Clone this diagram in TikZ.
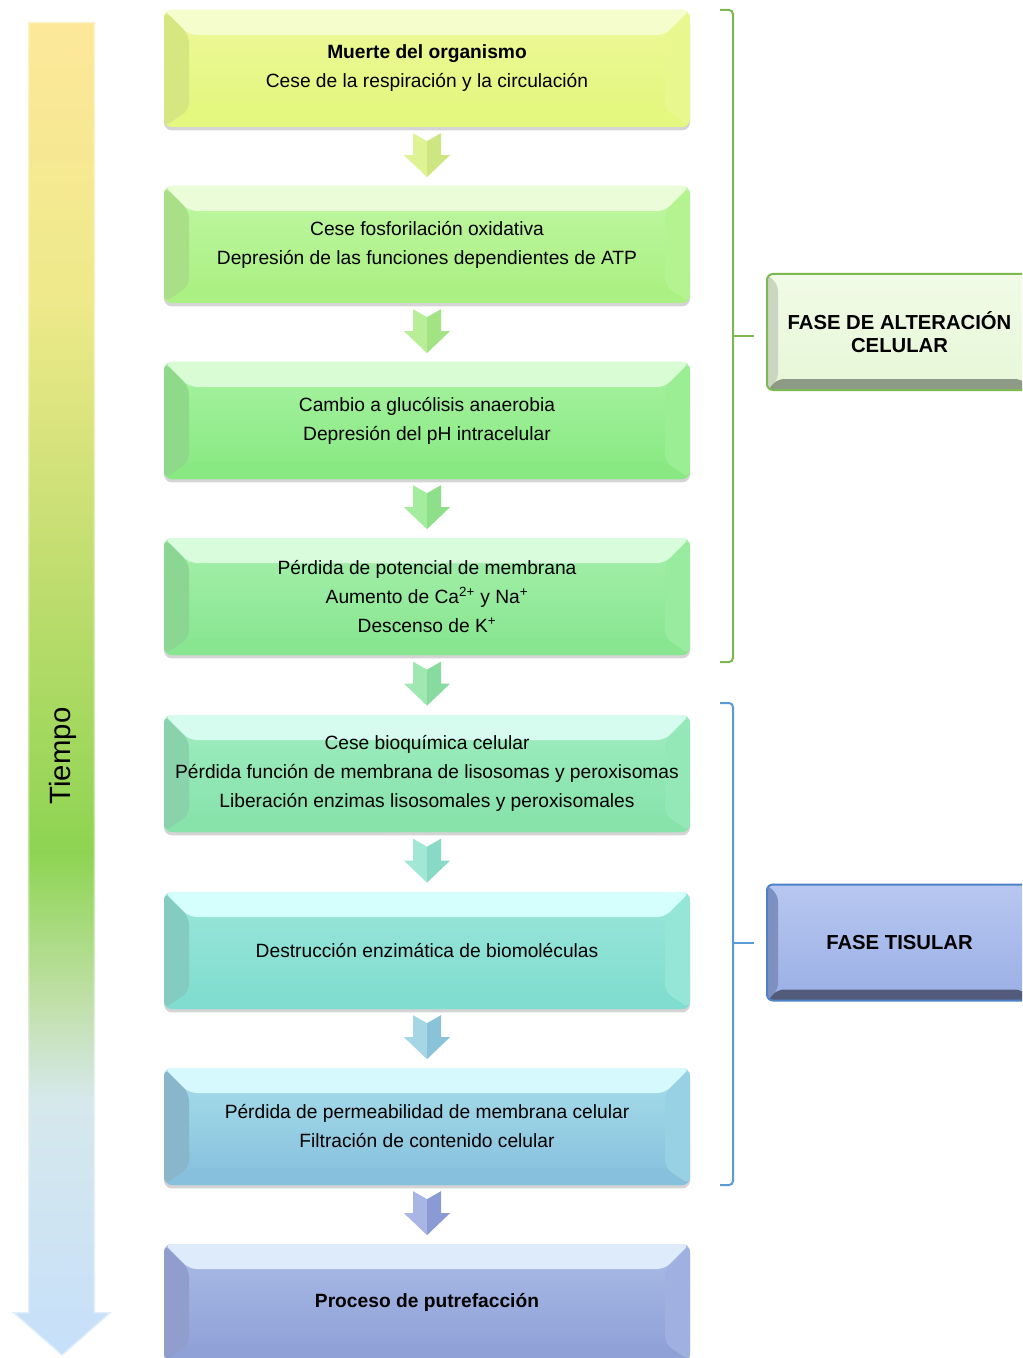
\documentclass[tikz,border=0pt]{standalone}
\usepackage{fontspec}
\setmainfont{Liberation Sans}
\usetikzlibrary{calc,shadows}

% box colours: f1/f2 face top/bottom, t top bevel, l left bevel, r right bevel, b bottom bevel
\definecolor{b1f1}{HTML}{EEF99A}\definecolor{b1f2}{HTML}{E2F67A}\definecolor{b1t}{HTML}{F6FDCC}\definecolor{b1l}{HTML}{D6E782}\definecolor{b1r}{HTML}{E9F88E}\definecolor{b1b}{HTML}{E4F77E}
\definecolor{b2f1}{HTML}{C0F6A4}\definecolor{b2f2}{HTML}{A9F07F}\definecolor{b2t}{HTML}{EAFDD8}\definecolor{b2l}{HTML}{A9DF86}\definecolor{b2r}{HTML}{B4F390}\definecolor{b2b}{HTML}{ABF082}
\definecolor{b3f1}{HTML}{A8F2A2}\definecolor{b3f2}{HTML}{86E97F}\definecolor{b3t}{HTML}{DAFCD4}\definecolor{b3l}{HTML}{8FD98A}\definecolor{b3r}{HTML}{9BEE93}\definecolor{b3b}{HTML}{88E982}
\definecolor{b4f1}{HTML}{A6F0AC}\definecolor{b4f2}{HTML}{86E58E}\definecolor{b4t}{HTML}{D9FCDC}\definecolor{b4l}{HTML}{8CD694}\definecolor{b4r}{HTML}{99EBA0}\definecolor{b4b}{HTML}{89E690}
\definecolor{b5f1}{HTML}{A0ECC2}\definecolor{b5f2}{HTML}{84E2A8}\definecolor{b5t}{HTML}{D6FCF0}\definecolor{b5l}{HTML}{89D2AC}\definecolor{b5r}{HTML}{94E7B6}\definecolor{b5b}{HTML}{87E3AA}
\definecolor{b6f1}{HTML}{9AE6DA}\definecolor{b6f2}{HTML}{7EDCCE}\definecolor{b6t}{HTML}{D4FFFC}\definecolor{b6l}{HTML}{84CCC2}\definecolor{b6r}{HTML}{96E6D8}\definecolor{b6b}{HTML}{81DDD0}
\definecolor{b7f1}{HTML}{A8DEEA}\definecolor{b7f2}{HTML}{84BEDC}\definecolor{b7t}{HTML}{D6F9FE}\definecolor{b7l}{HTML}{8AB6CC}\definecolor{b7r}{HTML}{98D0E4}\definecolor{b7b}{HTML}{87C0DD}
\definecolor{b8f1}{HTML}{ABBCE6}\definecolor{b8f2}{HTML}{8C9FD6}\definecolor{b8t}{HTML}{DDEBFB}\definecolor{b8l}{HTML}{8F9ECC}\definecolor{b8r}{HTML}{A0B0E0}\definecolor{b8b}{HTML}{8FA1D7}
% chevron colours
\definecolor{a1L}{HTML}{E0F394}\definecolor{a1R}{HTML}{CDE682}
\definecolor{a2L}{HTML}{B8EE98}\definecolor{a2R}{HTML}{A2E384}
\definecolor{a3L}{HTML}{A4EC9E}\definecolor{a3R}{HTML}{8DDF8A}
\definecolor{a4L}{HTML}{A0E8B2}\definecolor{a4R}{HTML}{88DB9E}
\definecolor{a5L}{HTML}{A2E6D4}\definecolor{a5R}{HTML}{88DAC6}
\definecolor{a6L}{HTML}{A4D6E6}\definecolor{a6R}{HTML}{8AC2D8}
\definecolor{a7L}{HTML}{A8B6E6}\definecolor{a7R}{HTML}{8A9AD4}
% time arrow
\definecolor{t1}{HTML}{FDE89A}\definecolor{t2}{HTML}{EEE98A}\definecolor{t3}{HTML}{C4DE72}
\definecolor{t4}{HTML}{8ED452}\definecolor{t5}{HTML}{C0E0A8}\definecolor{t6}{HTML}{D6E8EC}\definecolor{t7}{HTML}{C6E0FA}
% labels
\definecolor{gA}{HTML}{7CB950}\definecolor{bA}{HTML}{5B9BD5}
\definecolor{lAf1}{HTML}{F1FBE7}\definecolor{lAf2}{HTML}{E6F7D6}\definecolor{lAl}{HTML}{CAD6C2}\definecolor{lAb}{HTML}{8D9B86}
\definecolor{lBf1}{HTML}{B7C7F0}\definecolor{lBf2}{HTML}{9AAFE5}\definecolor{lBl}{HTML}{7F8FC0}\definecolor{lBb}{HTML}{525C7A}\definecolor{lBd}{HTML}{4F81C8}

\pgfdeclareverticalshading{timeshade}{100bp}{color(0bp)=(t7); color(25bp)=(t7); color(34.6bp)=(t6); color(38.3bp)=(t5); color(43.9bp)=(t4); color(55.1bp)=(t3); color(64.5bp)=(t2); color(75bp)=(t1); color(100bp)=(t1)}

\newcommand\boxfont{\fontsize{14.4pt}{21.75pt}\selectfont}
\newcommand\labfont{\fontsize{15.2pt}{17.25pt}\selectfont\bfseries}

\newcommand\mychev[3]{%
  \coordinate (m#1) at ($(#1.south)!0.5!(#2.north)+(0,1pt)$);
  \fill[#3L] ($(m#1)+(0,10.5pt)$) -- ($(m#1)+(-10.5pt,16.5pt)$) -- ($(m#1)+(-10.5pt,0pt)$) -- ($(m#1)+(-17.25pt,0pt)$) -- ($(m#1)+(0,-16.5pt)$) -- cycle;
  \fill[#3R] ($(m#1)+(0,10.5pt)$) -- ($(m#1)+(10.5pt,16.5pt)$) -- ($(m#1)+(10.5pt,0pt)$) -- ($(m#1)+(17.25pt,0pt)$) -- ($(m#1)+(0,-16.5pt)$) -- cycle;
}

\tikzset{
  bevbox/.style={rectangle, rounded corners=6pt, minimum width=394.5pt, minimum height=87.75pt,
    inner sep=0pt, align=center, font=\boxfont, top color=#1f1, bottom color=#1f2, draw=none,
    drop shadow={shadow xshift=0pt, shadow yshift=-2.6pt, opacity=0.28, fill=black!60},
    path picture={
      \fill[#1t] (path picture bounding box.north west) -- (path picture bounding box.north east)
        -- ([shift={(-18.75pt,-18.75pt)}]path picture bounding box.north east)
        -- ([shift={(18.75pt,-18.75pt)}]path picture bounding box.north west) -- cycle;
      \fill[#1l] (path picture bounding box.north west)
        -- ([shift={(18.75pt,-18.75pt)}]path picture bounding box.north west)
        -- ([shift={(18.75pt,12.75pt)}]path picture bounding box.south west)
        -- (path picture bounding box.south west) -- cycle;
      \fill[#1r] (path picture bounding box.north east)
        -- ([shift={(-18.75pt,-18.75pt)}]path picture bounding box.north east)
        -- ([shift={(-18.75pt,12.75pt)}]path picture bounding box.south east)
        -- (path picture bounding box.south east) -- cycle;
      \fill[#1b] (path picture bounding box.south west)
        -- ([shift={(18.75pt,12.75pt)}]path picture bounding box.south west)
        -- ([shift={(-18.75pt,12.75pt)}]path picture bounding box.south east)
        -- (path picture bounding box.south east) -- cycle;
    }},
  labbox/.style n args={5}{rectangle, rounded corners=4.5pt, minimum width=198.75pt, minimum height=87pt,
    inner sep=0pt, align=center, font=\labfont, top color=#1, bottom color=#2, draw=#5, line width=1.5pt,
    path picture={
      \fill[#3] (path picture bounding box.north west)
        -- ([shift={(8.25pt,-8.25pt)}]path picture bounding box.north west)
        -- ([shift={(8.25pt,8.25pt)}]path picture bounding box.south west)
        -- (path picture bounding box.south west) -- cycle;
      \fill[#4] (path picture bounding box.south west)
        -- ([shift={(8.25pt,8.25pt)}]path picture bounding box.south west)
        -- ([shift={(-8.25pt,8.25pt)}]path picture bounding box.south east)
        -- (path picture bounding box.south east) -- cycle;
    }},
  bracket/.style={line width=1.5pt, rounded corners=3pt}
}

\begin{document}
\begin{tikzpicture}[x=0.75pt,y=-0.75pt]
\useasboundingbox (0,0) rectangle (1022,1358);
\clip (0,0) rectangle (1022,1358);
\fill[white] (0,0) rectangle (1022,1358);

% time arrow
\shade[shading=timeshade] (28,22) -- (95,22) -- (95,1312) -- (112,1312) -- (62,1356) -- (12,1312) -- (28,1312) -- cycle;
\draw[white, opacity=0.45, line width=2pt] (28,22) -- (95,22) -- (95,1312) -- (112,1312) -- (62,1356) -- (12,1312) -- (28,1312) -- cycle;
\node[rotate=90, font=\fontsize{22pt}{26pt}\selectfont, inner sep=0pt] (tiempo) at (63,756) {Tiempo};

% boxes
\node[bevbox=b1] (b1) at (427,68.5) {\textbf{Muerte del organismo}\\Cese de la respiración y la circulación};
\node[bevbox=b2] (b2) at (427,244.5) {Cese fosforilación oxidativa\\Depresión de las funciones dependientes de ATP};
\node[bevbox=b3] (b3) at (427,420.5) {Cambio a glucólisis anaerobia\\Depresión del pH intracelular};
\node[bevbox=b4] (b4) at (427,596.5) {Pérdida de potencial de membrana\\Aumento de Ca\textsuperscript{2+} y Na\textsuperscript{+}\\Descenso de K\textsuperscript{+}};
\node[bevbox=b5] (b5) at (427,773.5) {Cese bioquímica celular\\Pérdida función de membrana de lisosomas y peroxisomas\\Liberación enzimas lisosomales y peroxisomales};
\node[bevbox=b6] (b6) at (427,950.5) {Destrucción enzimática de biomoléculas};
\node[bevbox=b7] (b7) at (427,1126.5) {Pérdida de permeabilidad de membrana celular\\Filtración de contenido celular};
\node[bevbox=b8] (b8) at (427,1302.5) {\textbf{Proceso de putrefacción}};

% chevrons between boxes
\mychev{b1}{b2}{a1}
\mychev{b2}{b3}{a2}
\mychev{b3}{b4}{a3}
\mychev{b4}{b5}{a4}
\mychev{b5}{b6}{a5}
\mychev{b6}{b7}{a6}
\mychev{b7}{b8}{a7}

% phase labels
\node[labbox={lAf1}{lAf2}{lAl}{lAb}{gA}] (labA) at (899.5,332) {FASE DE ALTERACIÓN\\CELULAR};
\node[labbox={lBf1}{lBf2}{lBl}{lBb}{lBd}] (labB) at (899.5,942.5) {FASE TISULAR};

% brackets
\draw[bracket, gA] (720,10) -- (733,10) -- (733,662) -- (720,662);
\coordinate (tA) at ([xshift=-9pt]labA.west |- 0,336);
\draw[line width=1.5pt, gA] (733,336) -- (tA);
\draw[bracket, bA] (720,703) -- (733,703) -- (733,1185) -- (720,1185);
\coordinate (tB) at ([xshift=-9pt]labB.west |- 0,943);
\draw[line width=1.5pt, bA] (733,943) -- (tB);
\end{tikzpicture}
\end{document}
